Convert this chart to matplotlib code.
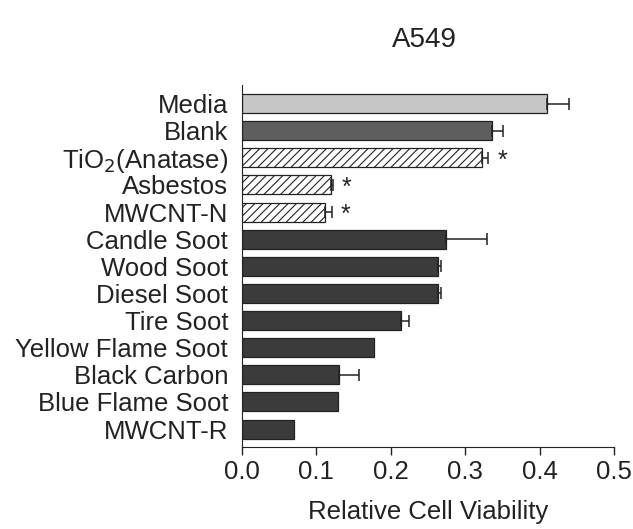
import matplotlib
matplotlib.use('Agg')
import matplotlib.pyplot as plt
import numpy as np

plt.rcParams['font.family'] = ['Liberation Sans', 'DejaVu Sans']
plt.rcParams['hatch.linewidth'] = 0.8

# data
labels = ['Media', 'Blank', 'TiO$_2$(Anatase)', 'Asbestos', 'MWCNT-N',
          'Candle Soot', 'Wood Soot', 'Diesel Soot', 'Tire Soot',
          'Yellow Flame Soot', 'Black Carbon', 'Blue Flame Soot', 'MWCNT-R']
viability = [0.410, 0.336, 0.322, 0.120, 0.112, 0.274, 0.263, 0.263,
             0.214, 0.178, 0.131, 0.129, 0.070]
errors = [0.030, 0.015, 0.009, 0.002, 0.009, 0.055, 0.004, 0.004,
          0.011, 0.0, 0.026, 0.0, 0.0]
significant = [False, False, True, True, True, False, False, False,
               False, False, False, False, False]

# styles per bar
fills = ['#c6c6c6', '#5e5e5e', 'white', 'white', 'white'] + ['#3b3b3b'] * 8
hatches = ['', '', '////', '////', '////'] + [''] * 8

fs = 18.5

fig = plt.figure(figsize=(6.33, 5.29), dpi=100)
ax = fig.add_axes([0.3823, 0.155, 0.970 - 0.3823, 0.839 - 0.155])

n = len(labels)
y = np.arange(n)[::-1]
for i in range(n):
    ax.barh(y[i], viability[i], height=0.7, color=fills[i], edgecolor='#222222',
            hatch=hatches[i], linewidth=0.9, zorder=2)
    if errors[i] > 0:
        ax.errorbar(viability[i], y[i], xerr=[[0], [errors[i]]], fmt='none',
                    ecolor='#222222', elinewidth=1.1, capsize=4.5, capthick=1.1, zorder=3)
    if significant[i]:
        ax.text(viability[i] + errors[i] + 0.012, y[i] - 0.1, '*', fontsize=18,
                ha='left', va='center', color='#222222')

ax.set_ylim(-0.66, n - 1 + 0.68)
ax.set_xlim(0, 0.5)
ax.set_yticks(y)
ax.set_yticklabels(labels, fontsize=fs, color='#222222')
ax.tick_params(axis='y', length=0, pad=10)
ax.set_xticks([0.0, 0.1, 0.2, 0.3, 0.4, 0.5])
ax.set_xticklabels(['0.0', '0.1', '0.2', '0.3', '0.4', '0.5'], fontsize=fs, color='#222222')
ax.tick_params(axis='x', length=6, width=1, pad=3, color='#222222')
ax.set_xlabel('Relative Cell Viability', fontsize=fs, color='#222222', labelpad=12)

ax.spines['top'].set_visible(False)
ax.spines['right'].set_visible(False)
ax.spines['left'].set_color('#222222')
ax.spines['bottom'].set_color('#222222')

fig.text(0.67, 0.925, 'A549', fontsize=20, ha='center', va='center', color='#222222')

plt.savefig('out.png', dpi=100)
